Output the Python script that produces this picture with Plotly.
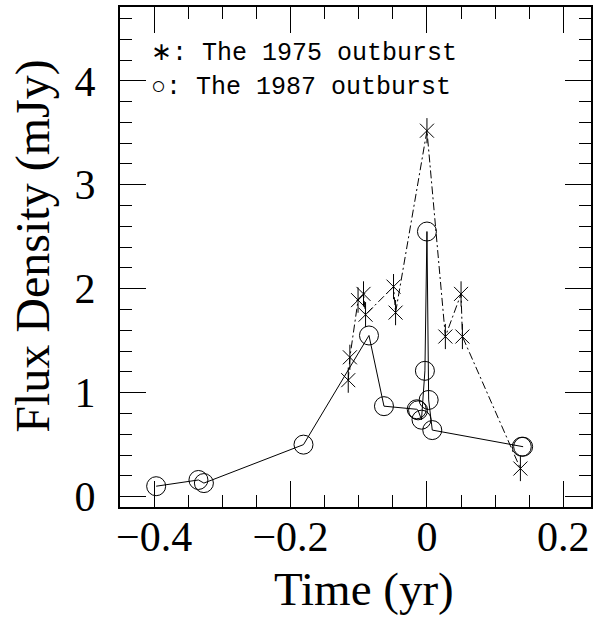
import plotly.graph_objects as go

# 1975 outburst (asterisks, dash-dot line)
t1975 = [-0.1154, -0.113, -0.101, -0.093, -0.090, -0.049, -0.046, 0.0, 0.027, 0.050, 0.052, 0.137]
f1975 = [1.12, 1.34, 1.89, 1.95, 1.75, 2.02, 1.77, 3.52, 1.54, 1.95, 1.54, 0.27]

# 1987 outburst (circles, solid line)
t1987 = [-0.397, -0.335, -0.327, -0.181, -0.085, -0.063, -0.015, -0.013, -0.008,
         -0.003, 0.0, 0.0025, 0.0078, 0.139, 0.141]
f1987 = [0.10, 0.16, 0.13, 0.50, 1.55, 0.87, 0.84, 0.83, 0.74,
         1.21, 2.55, 0.93, 0.64, 0.48, 0.48]

xtick_vals = [-0.4, -0.2, 0, 0.2]
xtick_text = ["\u22120.4", "\u22120.2", "0", "0.2"]
ytick_vals = [0, 1, 2, 3, 4]
ytick_text = ["0", "1", "2", "3", "4"]

legend_lines = ["\u2217: The 1975 outburst", "\u25cb: The 1987 outburst"]
x_title = "Time (yr)"
y_title = "Flux Density (mJy)"

FONT = "Liberation Serif"
LEG_FONT = "Liberation Mono"
W, H = 600, 617
L, R, T, B = 120.3, 9, 5.3, 110.3
pw, ph = W - L - R, H - T - B


def px(xp):
    return (xp - L) / pw


def py(yp):
    return (H - B - yp) / ph


fig = go.Figure()

fig.add_trace(go.Scatter(
    x=t1975, y=f1975, mode="lines+markers",
    line=dict(color="black", width=1, dash="8px,3px,2px,3px"),
    marker=dict(symbol="x-thin-open", size=14, color="black",
                line=dict(color="black", width=1)),
    showlegend=False, hoverinfo="skip"))
fig.add_trace(go.Scatter(
    x=t1975, y=f1975, mode="markers",
    marker=dict(symbol="line-ns-open", size=18, color="black",
                line=dict(color="black", width=1)),
    showlegend=False, hoverinfo="skip"))

fig.add_trace(go.Scatter(
    x=t1987, y=f1987, mode="lines+markers",
    line=dict(color="black", width=1),
    marker=dict(symbol="circle-open", size=19, color="black",
                line=dict(color="black", width=1)),
    showlegend=False, hoverinfo="skip"))

axis_common = dict(
    showgrid=False, zeroline=False, showline=True, linecolor="black",
    linewidth=2, mirror="allticks", ticks="inside", ticklen=26,
    tickwidth=1, tickcolor="black",
    tickfont=dict(family=FONT, size=42, color="black"),
)

fig.update_xaxes(
    range=[-0.45, 0.2405], tickvals=xtick_vals, ticktext=xtick_text,
    ticklabelstandoff=-8,
    minor=dict(ticks="inside", ticklen=12, tickwidth=1, tickcolor="black",
               dtick=0.05, tick0=0),
    **axis_common)
fig.update_yaxes(
    range=[-0.1, 4.71], tickvals=ytick_vals, ticktext=ytick_text,
    ticklabelstandoff=14,
    minor=dict(ticks="inside", ticklen=12, tickwidth=1, tickcolor="black",
               dtick=0.2, tick0=0),
    **axis_common)

annotations = [
    dict(text=x_title, x=px(364), y=py(589), xref="paper", yref="paper",
         showarrow=False, xanchor="center", yanchor="middle",
         font=dict(family=FONT, size=47, color="black")),
    dict(text=y_title, x=px(33), y=py(245), xref="paper", yref="paper",
         showarrow=False, xanchor="center", yanchor="middle", textangle=-90,
         font=dict(family=FONT, size=48, color="black")),
]
for i, line in enumerate(legend_lines):
    annotations.append(dict(
        text=line, x=px(149), y=py(52 + 34 * i), xref="paper", yref="paper",
        showarrow=False, xanchor="left", yanchor="middle",
        font=dict(family=LEG_FONT, size=25, color="black")))

fig.update_layout(
    width=W, height=H,
    margin=dict(l=L, r=R, t=T, b=B, pad=0),
    paper_bgcolor="white", plot_bgcolor="white",
    annotations=annotations,
)

fig.write_html("out.html")
